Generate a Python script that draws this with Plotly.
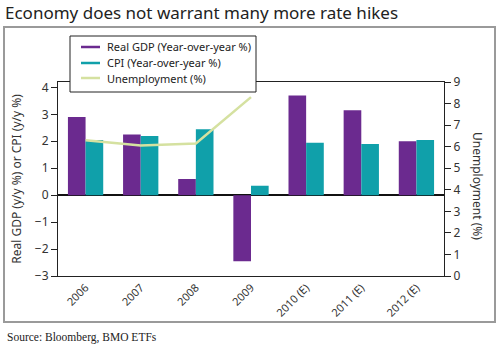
import plotly.graph_objects as go

categories = ["2006", "2007", "2008", "2009", "2010 (E)", "2011 (E)", "2012 (E)"]
gdp = [2.9, 2.25, 0.6, -2.45, 3.7, 3.15, 2.0]
cpi = [2.05, 2.2, 2.45, 0.35, 1.95, 1.9, 2.05]
unemp_cats = ["2006", "2007", "2008", "2009"]
unemp = [6.3, 6.05, 6.15, 8.3]

series_names = ["Real GDP (Year-over-year %)", "CPI (Year-over-year %)", "Unemployment (%)"]
left_ticks = [-3, -2, -1, 0, 1, 2, 3, 4]
right_ticks = [0, 1, 2, 3, 4, 5, 6, 7, 8, 9]

PURPLE = "#6b2a8f"
TEAL = "#10a0aa"
GREEN = "#d5e1a0"
FONT = "Noto Sans"

# plot area in pixels (for converting layout decorations to paper coords)
L, R, T, B = 58, 444, 82, 276
def px(x):
    return (x - L) / (R - L)
def py(y):
    return 1 - (y - T) / (B - T)

fig = go.Figure()
fig.add_trace(go.Bar(x=categories, y=gdp, name=series_names[0],
                     marker=dict(color=PURPLE, line=dict(width=0))))
fig.add_trace(go.Bar(x=categories, y=cpi, name=series_names[1],
                     marker=dict(color=TEAL, line=dict(width=0))))
fig.add_trace(go.Scatter(x=unemp_cats, y=unemp, mode="lines", name=series_names[2],
                         line=dict(color=GREEN, width=2.5), yaxis="y2"))

fig.update_layout(
    width=500, height=344,
    margin=dict(l=L, r=500 - R, t=T, b=344 - B),
    paper_bgcolor="white", plot_bgcolor="white",
    barmode="group", bargap=0.36, bargroupgap=0,
    showlegend=False,
    font=dict(family=FONT, size=12, color="#333"),
    xaxis=dict(type="category", categoryorder="array", categoryarray=categories,
               showline=True, linecolor="#222", linewidth=1, mirror=True,
               ticks="", tickangle=-45, showgrid=False, zeroline=False,
               tickfont=dict(size=11, color="#333")),
    yaxis=dict(range=[-3, 4.2], tickvals=left_ticks, showgrid=False,
               showline=True, linecolor="#222", linewidth=1,
               ticks="outside", ticklen=6, tickcolor="#222",
               zeroline=True, zerolinecolor="#111", zerolinewidth=1.5,
               title=dict(text="Real GDP (y/y %) or CPI (y/y %)", font=dict(size=12, color="#333"), standoff=10),
               tickfont=dict(size=12, color="#333")),
    yaxis3=dict(range=[-3, 4.2], matches="y", overlaying="y", side="left",
                tickvals=left_ticks, ticks="inside", ticklen=6, tickcolor="#222",
                showticklabels=False, showgrid=False, zeroline=False, showline=False),
    yaxis2=dict(range=[0, 9], tickvals=right_ticks, overlaying="y", side="right",
                showgrid=False, zeroline=False, showline=True, linecolor="#222", linewidth=1,
                ticks="outside", ticklen=6, tickcolor="#222",
                tickfont=dict(size=12, color="#333")),
    yaxis4=dict(range=[0, 9], matches="y2", overlaying="y", side="right",
                tickvals=right_ticks, ticks="inside", ticklen=6, tickcolor="#222",
                showticklabels=False, showgrid=False, zeroline=False, showline=False),
)

# Legend box (drawn as layout decoration)
fig.add_shape(type="rect", xref="paper", yref="paper",
              x0=px(70), x1=px(256), y0=py(92), y1=py(36),
              line=dict(color="#222", width=1), fillcolor="white", layer="above")
legend_colors = [PURPLE, TEAL, GREEN]
legend_rows = [47, 63, 78]
for name, col, yy in zip(series_names, legend_colors, legend_rows):
    fig.add_shape(type="line", xref="paper", yref="paper",
                  x0=px(81), x1=px(100), y0=py(yy), y1=py(yy),
                  line=dict(color=col, width=2.5), layer="above")
    fig.add_annotation(text=name, xref="paper", yref="paper", x=px(105), y=py(yy),
                       xanchor="left", yanchor="middle", showarrow=False,
                       font=dict(size=11, color="#222"))

fig.add_annotation(text="Unemployment (%)", xref="paper", yref="paper", x=px(478), y=py(186),
                   xanchor="center", yanchor="middle",
                   textangle=90, showarrow=False, font=dict(size=12, color="#333"))
fig.add_annotation(text="Economy does not warrant many more rate hikes", xref="paper", yref="paper",
                   x=px(3), y=py(13), xanchor="left", yanchor="middle",
                   showarrow=False, font=dict(family=FONT, size=17, color="#222"))
fig.add_annotation(text="Source: Bloomberg, BMO ETFs", xref="paper", yref="paper",
                   x=px(5), y=py(337), xanchor="left", yanchor="middle",
                   showarrow=False, font=dict(family="Liberation Serif", size=11.5, color="#222"))
fig.add_shape(type="rect", xref="paper", yref="paper",
              x0=px(4), x1=px(495), y0=py(322), y1=py(27),
              line=dict(color="#9a9a9a", width=2), fillcolor="rgba(0,0,0,0)", layer="below")

fig.write_html("out.html")
